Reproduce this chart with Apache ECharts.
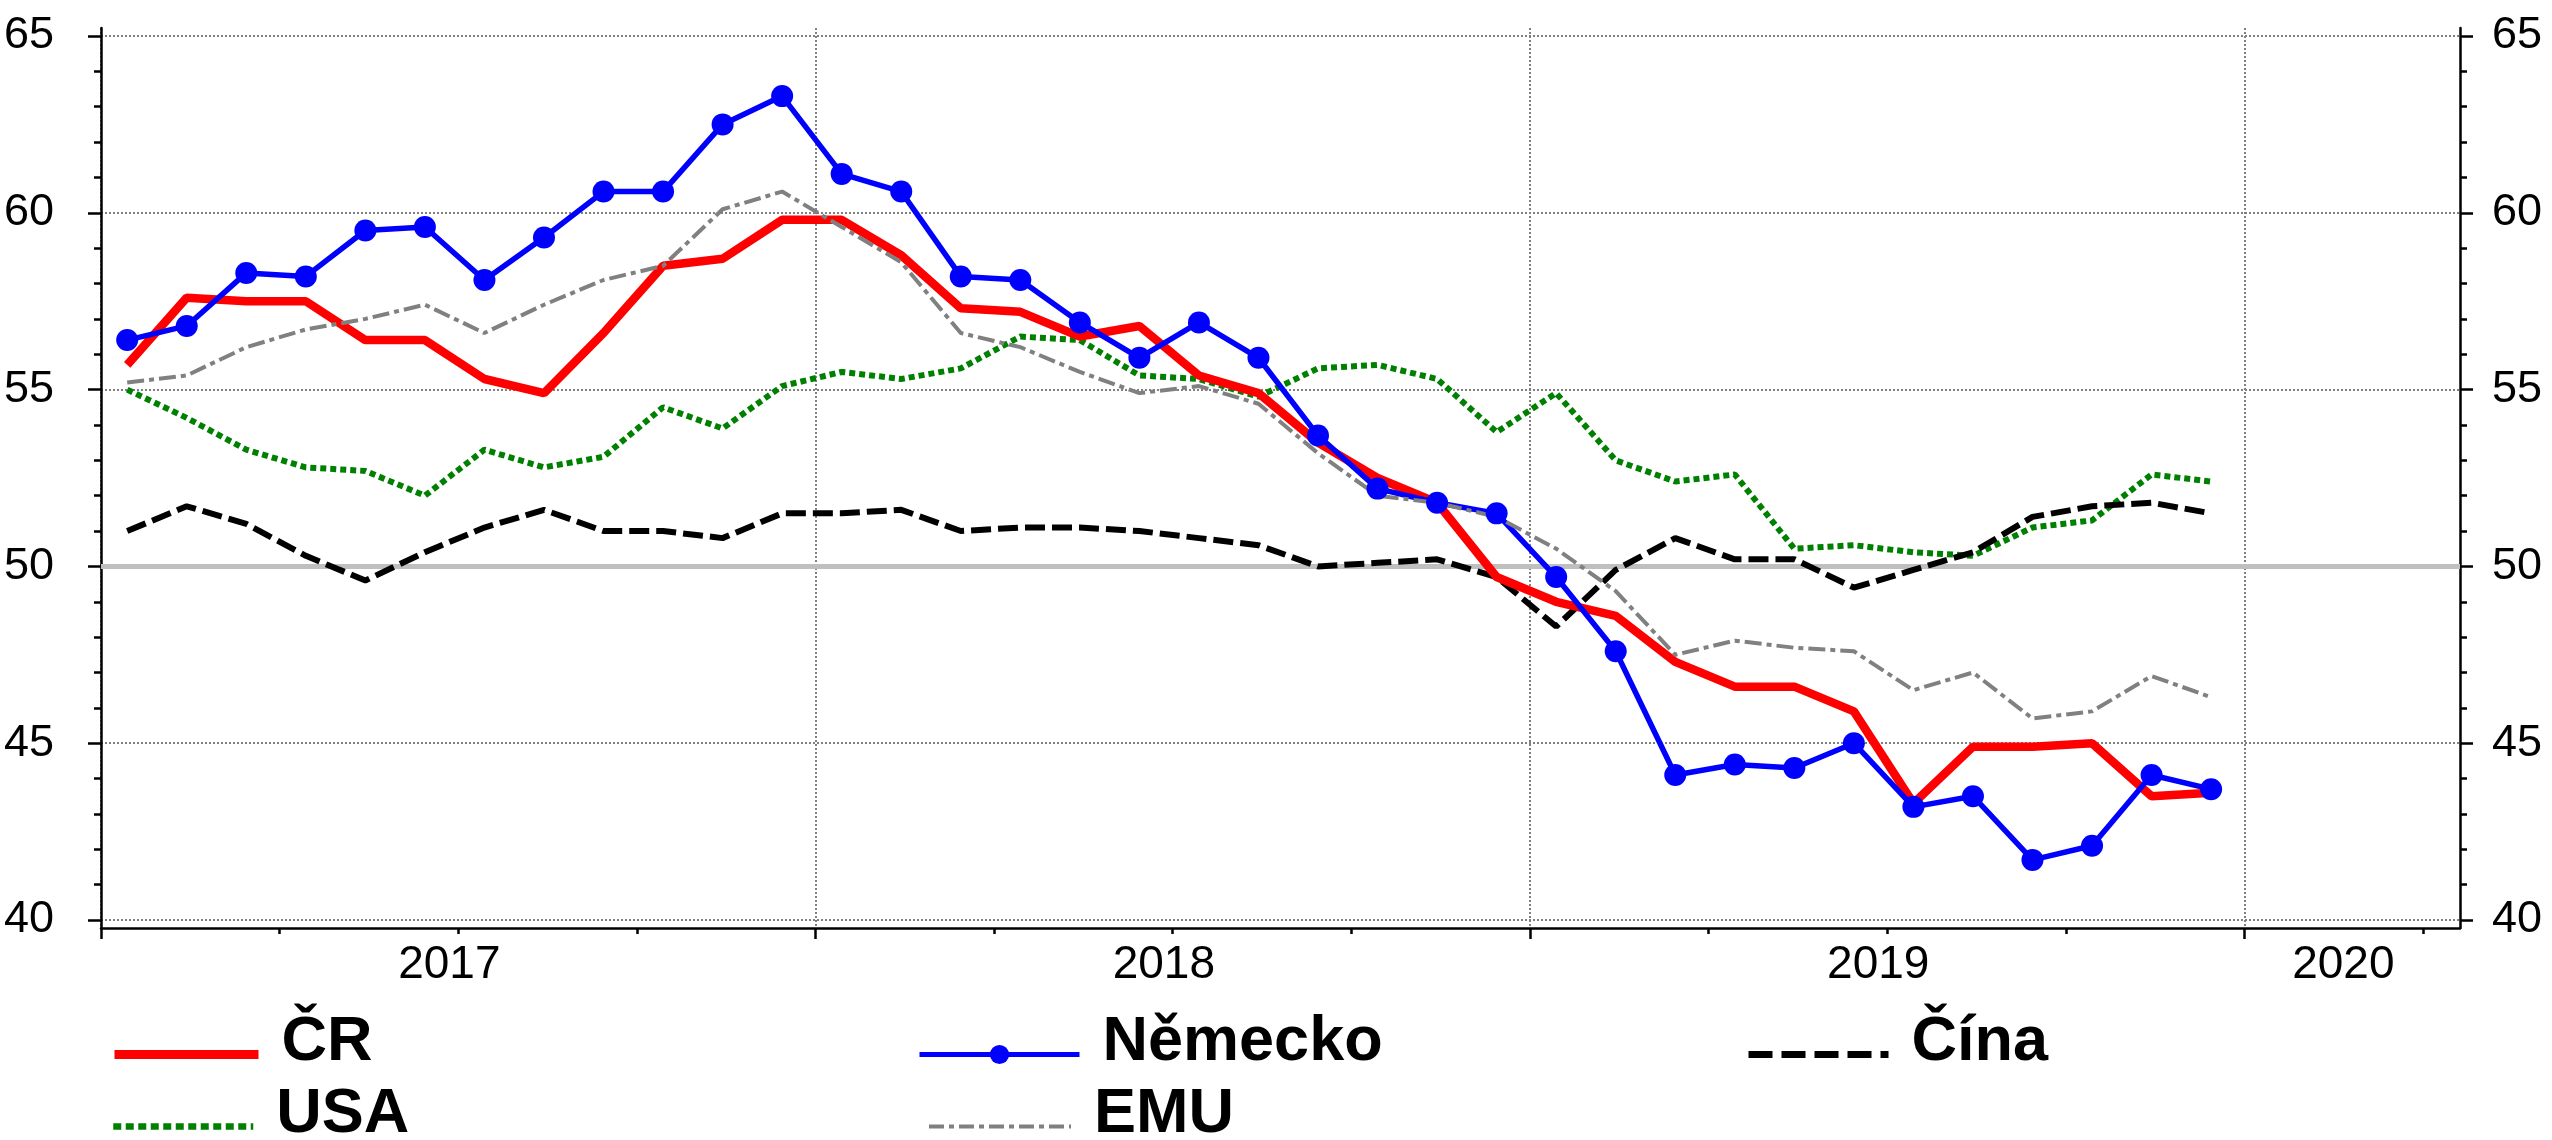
<!DOCTYPE html>
<html>
<head>
<meta charset="utf-8">
<script src="https://cdn.jsdelivr.net/npm/echarts@6/dist/echarts.min.js"></script>
<style>
  html, body { margin: 0; padding: 0; background: #fff; }
  #chart { width: 2552px; height: 1140px; }
</style>
</head>
<body>
<div id="chart"></div>
<script>
// monthly values Jan 2017 - Dec 2019
const months = [
    '2017-01','2017-02','2017-03','2017-04','2017-05','2017-06','2017-07','2017-08','2017-09','2017-10','2017-11','2017-12',
    '2018-01','2018-02','2018-03','2018-04','2018-05','2018-06','2018-07','2018-08','2018-09','2018-10','2018-11','2018-12',
    '2019-01','2019-02','2019-03','2019-04','2019-05','2019-06','2019-07','2019-08','2019-09','2019-10','2019-11','2019-12'
];
const cr = [55.7, 57.6, 57.5, 57.5, 56.4, 56.4, 55.3, 54.9, 56.6, 58.5, 58.7, 59.8,
            59.8, 58.8, 57.3, 57.2, 56.5, 56.8, 55.4, 54.9, 53.5, 52.5, 51.8, 49.7,
            49.0, 48.6, 47.3, 46.6, 46.6, 45.9, 43.3, 44.9, 44.9, 45.0, 43.5, 43.6];
const nemecko = [56.4, 56.8, 58.3, 58.2, 59.5, 59.6, 58.1, 59.3, 60.6, 60.6, 62.5, 63.3,
                 61.1, 60.6, 58.2, 58.1, 56.9, 55.9, 56.9, 55.9, 53.7, 52.2, 51.8, 51.5,
                 49.7, 47.6, 44.1, 44.4, 44.3, 45.0, 43.2, 43.5, 41.7, 42.1, 44.1, 43.7];
const cina = [51.0, 51.7, 51.2, 50.3, 49.6, 50.4, 51.1, 51.6, 51.0, 51.0, 50.8, 51.5,
              51.5, 51.6, 51.0, 51.1, 51.1, 51.0, 50.8, 50.6, 50.0, 50.1, 50.2, 49.7,
              48.3, 49.9, 50.8, 50.2, 50.2, 49.4, 49.9, 50.4, 51.4, 51.7, 51.8, 51.5];
const usa = [55.0, 54.2, 53.3, 52.8, 52.7, 52.0, 53.3, 52.8, 53.1, 54.5, 53.9, 55.1,
             55.5, 55.3, 55.6, 56.5, 56.4, 55.4, 55.3, 54.8, 55.6, 55.7, 55.3, 53.8,
             54.9, 53.0, 52.4, 52.6, 50.5, 50.6, 50.4, 50.3, 51.1, 51.3, 52.6, 52.4];
const emu = [55.2, 55.4, 56.2, 56.7, 57.0, 57.4, 56.6, 57.4, 58.1, 58.5, 60.1, 60.6,
             59.6, 58.6, 56.6, 56.2, 55.5, 54.9, 55.1, 54.6, 53.2, 52.0, 51.8, 51.4,
             50.5, 49.3, 47.5, 47.9, 47.7, 47.6, 46.5, 47.0, 45.7, 45.9, 46.9, 46.3];
const years = ['2017', '2018', '2019', '2020'];
const yTicks = [40, 45, 50, 55, 60, 65];

const FONT = "'Liberation Sans', Arial, sans-serif";
const X_MAX = 39.62; // axis ends in mid April 2020 (months since Jan 2017)
// plot box is a bit taller than 40..65, like the original
const Y_MIN = 39.774, Y_MAX = 65.226;

// x value = months since Jan 2017, point drawn mid month
function monthPos(m) {
    let p = m.split('-');
    return (parseInt(p[0]) - 2017) * 12 + (parseInt(p[1]) - 1) + 0.44;
}
function toSeries(vals) {
    return vals.map((v, i) => [monthPos(months[i]), v]);
}

let quarterTicks = [];
for (let q = 0; q <= X_MAX; q += 3) quarterTicks.push(q);
let yearTicks = [];
for (let q = 0; q <= X_MAX; q += 12) yearTicks.push(q);
// year label centred in the visible part of each year
let yearLabelPos = years.map((y, k) => (k * 12 + Math.min(k * 12 + 12, X_MAX)) / 2 - 0.15);
let yMinor = [];
for (let v = yTicks[0]; v <= yTicks[yTicks.length - 1]; v++) yMinor.push(v);

let chart = echarts.init(document.getElementById('chart'));

const gridLine = { show: true, lineStyle: { color: '#808080', width: 2, type: [2, 2] } };
const axisBlack = { show: true, lineStyle: { color: '#000', width: 2.5 } };
const tickStyle = { color: '#000', width: 2.5 };

function yAxisMajor(pos, margin) {
    return {
        type: 'value', min: Y_MIN, max: Y_MAX, position: pos,
        axisLine: axisBlack,
        axisTick: { show: true, customValues: yTicks, length: 13, lineStyle: tickStyle },
        axisLabel: { customValues: yTicks, fontSize: 45, fontFamily: FONT, color: '#000', margin: margin },
        splitLine: pos === 'left' ? gridLine : { show: false }
    };
}
function yAxisMinor(pos) {
    return {
        type: 'value', min: Y_MIN, max: Y_MAX, position: pos,
        axisLine: { show: false },
        axisTick: { show: true, customValues: yMinor, length: 7, lineStyle: tickStyle },
        axisLabel: { show: false },
        splitLine: { show: false }
    };
}

// one legend per item so the columns line up like the original
// (an empty second text line lifts the name a little above its line icon)
function legendItem(name, left, top, width, lineStyle, hideSymbol) {
    let item = { name: name, lineStyle: lineStyle };
    if (hideSymbol) item.itemStyle = { opacity: 0 };
    return {
        left: left, top: top, orient: 'horizontal', padding: 0,
        itemWidth: width, itemHeight: 24,
        selectedMode: false,
        data: [item],
        formatter: function (n) { return '{t|' + n + '}\n{s| }'; },
        textStyle: {
            padding: [0, 0, 0, 18],
            rich: {
                t: { fontSize: 63, lineHeight: 62, fontWeight: 'bold', fontFamily: FONT, color: '#000' },
                s: { fontSize: 2, lineHeight: 24 }
            }
        }
    };
}
const ROW1 = 1011, ROW2 = 1083;

let option = {
    animation: false,
    backgroundColor: '#fff',
    grid: { left: 101, right: 92, top: 28, bottom: 212, containLabel: false },
    xAxis: [
        {
            type: 'value',
            min: 0,
            max: X_MAX,
            interval: 12,
            position: 'bottom',
            axisLine: axisBlack,
            axisTick: { show: true, customValues: yearTicks, length: 11, lineStyle: tickStyle },
            axisLabel: {
                customValues: yearLabelPos,
                formatter: function (val) {
                    let k = yearLabelPos.findIndex(p => Math.abs(p - val) < 0.01);
                    return k >= 0 ? years[k] : '';
                },
                fontSize: 46,
                fontFamily: FONT,
                color: '#000',
                margin: 14
            },
            splitLine: gridLine
        },
        {
            type: 'value',
            min: 0,
            max: X_MAX,
            interval: 3,
            position: 'bottom',
            axisLine: { show: false },
            axisTick: { show: true, customValues: quarterTicks, length: 6, lineStyle: tickStyle },
            axisLabel: { show: false },
            splitLine: { show: false }
        }
    ],
    yAxis: [
        yAxisMajor('left', 47),
        yAxisMinor('left'),
        yAxisMajor('right', 32),
        yAxisMinor('right')
    ],
    legend: [
        legendItem('ČR', 110, ROW1, 144, { width: 9 }, true),
        legendItem('Německo', 917, ROW1, 160, { width: 5 }, false),
        legendItem('Čína', 1745, ROW1, 140, { width: 7, type: [24, 9] }, true),
        legendItem('USA', 110, ROW2, 140, { width: 6.5, type: [8, 4.5] }, true),
        legendItem('EMU', 927, ROW2, 142, { width: 4, type: [15, 5, 5, 5] }, true)
    ],
    series: [
        {
            name: 'USA',
            type: 'line',
            data: toSeries(usa),
            symbol: 'none',
            color: '#008000',
            lineStyle: { color: '#008000', width: 6, type: [6, 4] },
            markLine: {
                silent: true,
                z: 1,
                symbol: 'none',
                label: { show: false },
                lineStyle: { color: '#bfbfbf', width: 5, type: 'solid' },
                data: [{ yAxis: yTicks[2] }]
            }
        },
        {
            name: 'Čína',
            type: 'line',
            data: toSeries(cina),
            symbol: 'none',
            color: '#000',
            lineStyle: { color: '#000', width: 6, type: [20, 7] }
        },
        {
            name: 'ČR',
            type: 'line',
            data: toSeries(cr),
            symbol: 'none',
            color: '#ff0000',
            lineStyle: { color: '#ff0000', width: 8.5 }
        },
        {
            name: 'Německo',
            type: 'line',
            data: toSeries(nemecko),
            symbol: 'circle',
            symbolSize: 22,
            color: '#0000ff',
            itemStyle: { color: '#0000ff' },
            lineStyle: { color: '#0000ff', width: 5.5 }
        },
        {
            name: 'EMU',
            type: 'line',
            data: toSeries(emu),
            symbol: 'none',
            color: '#808080',
            lineStyle: { color: '#808080', width: 4, type: [17, 5, 5, 5] }
        }
    ]
};
option && chart.setOption(option);
</script>
</body>
</html>
